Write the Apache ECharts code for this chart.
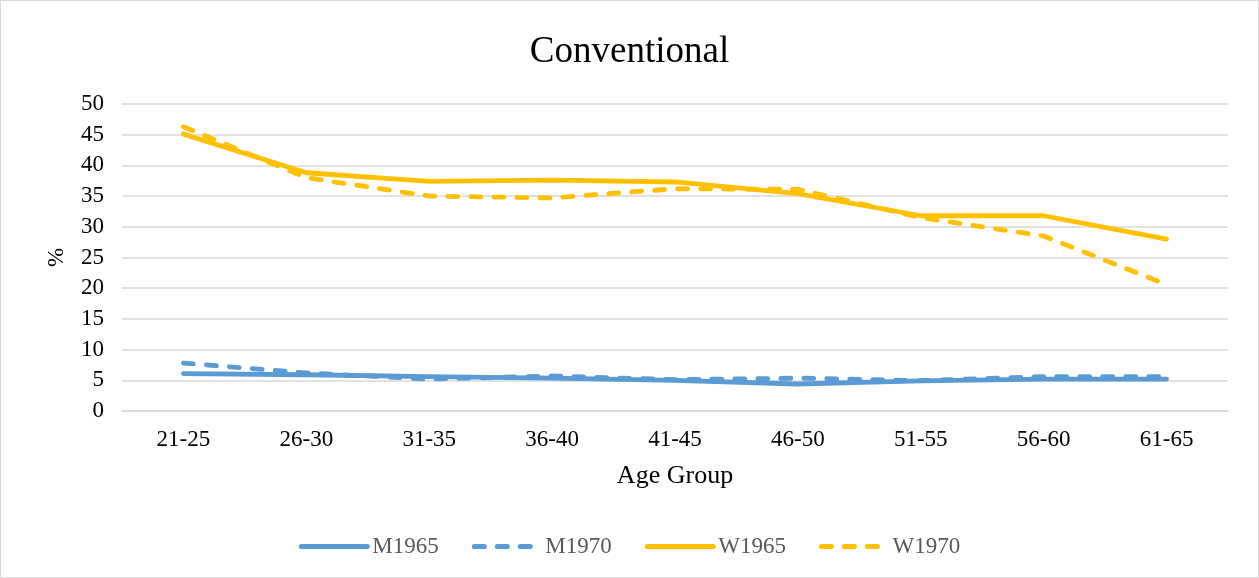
<!DOCTYPE html>
<html><head><meta charset="utf-8">
<script src="https://cdn.jsdelivr.net/npm/echarts@6/dist/echarts.min.js"></script>
<style>html,body{margin:0;padding:0;background:#fff}#c{width:1259px;height:578px;box-sizing:border-box;border:1px solid #D9D9D9}</style>
</head><body><div id="c"></div>
<script>
const categories = ['21-25','26-30','31-35','36-40','41-45','46-50','51-55','56-60','61-65'];
const M1965 = [6.1, 5.9, 5.6, 5.35, 5.0, 4.4, 4.9, 5.2, 5.2];
const M1970 = [7.8, 6.2, 5.2, 5.7, 5.1, 5.35, 4.95, 5.6, 5.6];
const W1965 = [45.1, 38.8, 37.4, 37.6, 37.3, 35.4, 31.8, 31.8, 28.0];
const W1970 = [46.3, 38.0, 35.0, 34.7, 36.2, 36.1, 31.5, 28.5, 20.6];
const yTicks = {min: 0, max: 50, interval: 5};

const font = '"Liberation Serif", "Times New Roman", serif';
const blue = '#5B9BD5', gold = '#FFC000';
function mk(name, data, color, dashed) {
  return {
    name, type: 'line', data, symbol: 'none', smooth: false,
    lineStyle: {color, width: 4.8, type: dashed ? [10, 13] : 'solid', cap: 'round', join: 'round'},
    itemStyle: {color}
  };
}
const chart = echarts.init(document.getElementById('c'), null, {renderer: 'canvas'});
chart.setOption({
  animation: false,
  title: {text: 'Conventional', left: 'center', top: 28,
    textStyle: {fontFamily: font, fontSize: 37, fontWeight: 'normal', color: '#000'}},
  grid: {left: 121, right: 30, top: 103, bottom: 166, containLabel: false},
  xAxis: {type: 'category', data: categories, boundaryGap: true,
    axisLine: {show: true, lineStyle: {color: '#D9D9D9', width: 1.5}},
    axisTick: {show: false},
    axisLabel: {fontFamily: font, fontSize: 23, color: '#000', margin: 17},
    name: 'Age Group', nameLocation: 'middle', nameGap: 52,
    nameTextStyle: {fontFamily: font, fontSize: 26, color: '#000'}},
  yAxis: {type: 'value', min: yTicks.min, max: yTicks.max, interval: yTicks.interval,
    axisLine: {show: false}, axisTick: {show: false},
    splitLine: {lineStyle: {color: '#D9D9D9', width: 1.5}},
    axisLabel: {fontFamily: font, fontSize: 23, color: '#000', margin: 18},
    name: '%', nameLocation: 'middle', nameGap: 54, nameRotate: 90,
    nameTextStyle: {fontFamily: font, fontSize: 23, color: '#000'}},
  legend: {bottom: 14, left: 'center', itemWidth: 66, itemHeight: 14, itemGap: 33,
    itemStyle: {opacity: 0},
    lineStyle: {width: 5, cap: 'round'},
    textStyle: {fontFamily: font, fontSize: 23, color: '#595959'},
    data: ['M1965','M1970','W1965','W1970']},
  series: [mk('M1965', M1965, blue, false), mk('M1970', M1970, blue, true),
           mk('W1965', W1965, gold, false), mk('W1970', W1970, gold, true)]
});
</script></body></html>
